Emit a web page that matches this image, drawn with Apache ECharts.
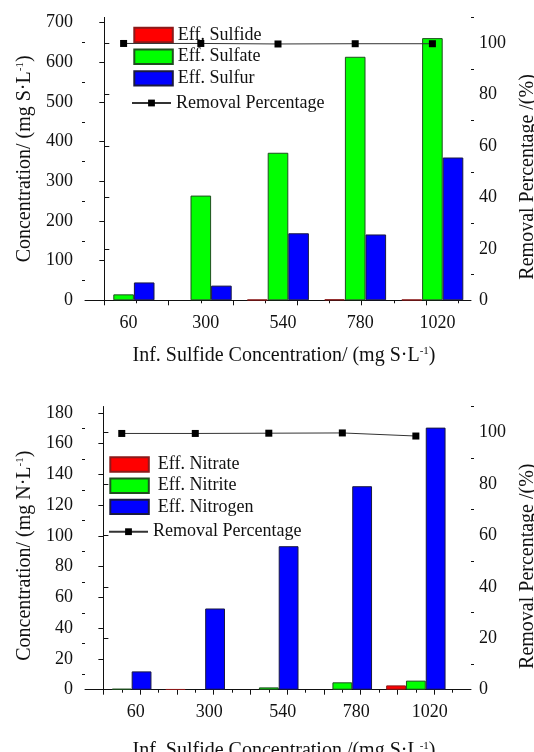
<!DOCTYPE html>
<html>
<head>
<meta charset="utf-8">
<script src="https://cdn.jsdelivr.net/npm/echarts@6/dist/echarts.min.js"></script>
<style>
  html, body { margin: 0; padding: 0; background: #fff; }
  .chart { width: 534px; height: 376px; }
</style>
</head>
<body>
<div id="sulfurChart" class="chart"></div>
<div id="nitrogenChart" class="chart"></div>
<script>
// influent sulfide levels (mg S/L)
const sulfideDose = [60, 300, 540, 780, 1020];

// top panel: sulfur species (mg S/L) and sulfide removal (%)
// null = no bar visible in the figure
const effSulfide = [null, null, 1.7, 2.5, 1.7];
const effSulfate = [15, 264, 372, 614, 661];
const effSulfur = [45, 37, 169, 166, 360];
const sulfideRemoval = [99.9, 99.9, 99.7, 99.8, 99.8];

// bottom panel: nitrogen species (mg N/L) and nitrate removal (%)
const effNitrate = [null, 0.3, null, null, 2.8];
const effNitrite = [0.6, null, 1.5, 4.8, 5.9];
const effNitrogen = [11.9, 52.8, 93.3, 132.3, 170.4];
const nitrateRemoval = [99.6, 99.6, 99.7, 99.8, 98.6];

// tick values
const sConcTicks = [0, 100, 200, 300, 400, 500, 600, 700];
const sConcMinor = [50, 150, 250, 350, 450, 550, 650];
const nConcTicks = [0, 20, 40, 60, 80, 100, 120, 140, 160, 180];
const nConcMinor = [10, 30, 50, 70, 90, 110, 130, 150, 170];
const removalTicks = [0, 20, 40, 60, 80, 100];
const removalMinor = [10, 30, 50, 70, 90, 110];
const sDoseMajor = [0, 200, 400, 600, 800, 1000];
const sDoseMinor = [100, 300, 500, 700, 900, 1100];
const nDoseMajor = [0, 120, 240, 360, 480, 600, 720, 840, 960, 1080];
const nDoseMinor = [60, 180, 300, 420, 540, 660, 780, 900, 1020, 1140];

const font = "'Liberation Serif', 'Times New Roman', serif";
const ink = '#111';
const nameRich = { sup: { fontSize: 11, lineHeight: 11, verticalAlign: 'top', fontFamily: font, color: ink } };

const pairs = (vals) => sulfideDose.map((x, i) => [x, vals[i]]);
const plain = (v) => String(v);

const tickOnlyAxis = (extra, values, len) => Object.assign({
  axisLine: { show: false },
  axisLabel: { show: false },
  splitLine: { show: false },
  axisTick: { show: true, customValues: values, length: len, lineStyle: { color: ink } }
}, extra);

function buildOption(c) {
  const barSeries = c.bars.map((b) => ({
    name: b.name,
    type: 'bar',
    data: pairs(b.data),
    barWidth: c.barWidth,
    barGap: '0%',
    itemStyle: { color: b.color, borderColor: b.border, borderWidth: 1 }
  }));
  return {
    animation: false,
    textStyle: { fontFamily: font },
    grid: { left: 85, right: 63, top: c.gridTop, bottom: c.gridBottom, containLabel: false, outerBoundsMode: 'none' },
    legend: [
      {
        data: c.bars.map((b) => b.name),
        orient: 'vertical',
        left: c.barLegend[0],
        top: c.barLegend[1],
        padding: 0,
        icon: 'rect',
        itemWidth: 38.5,
        itemHeight: 14.4,
        itemGap: c.legendGap,
        selectedMode: false,
        textStyle: { fontFamily: font, fontSize: 18, color: ink, lineHeight: 18, padding: c.legendTextPad }
      },
      {
        data: [c.lineName],
        left: c.lineLegend[0],
        top: c.lineLegend[1],
        padding: 0,
        itemWidth: 39,
        itemHeight: 8.5,
        selectedMode: false,
        textStyle: { fontFamily: font, fontSize: 18, color: ink, lineHeight: 18 }
      }
    ],
    xAxis: [
      {
        type: 'value',
        min: c.xMin,
        max: c.xMax,
        name: c.xName,
        nameLocation: 'middle',
        nameGap: c.xNameGap,
        nameTextStyle: { fontFamily: font, fontSize: 20, color: ink, lineHeight: 20, padding: [0, 0, 0, 12], rich: nameRich },
        axisLine: { show: true, lineStyle: { color: ink } },
        axisTick: { show: true, customValues: c.xMajor, length: 5, lineStyle: { color: ink } },
        axisLabel: { customValues: sulfideDose, formatter: plain, margin: 14, fontSize: 18, color: ink, fontFamily: font, padding: c.xLabelPad },
        splitLine: { show: false }
      },
      tickOnlyAxis({ type: 'value', min: c.xMin, max: c.xMax, position: 'bottom' }, c.xMinor, 3)
    ],
    yAxis: [
      {
        type: 'value',
        position: 'left',
        min: 0,
        max: c.concMax,
        name: c.yName,
        nameLocation: 'middle',
        nameGap: 50,
        nameTextStyle: { fontFamily: font, fontSize: 20, color: ink, lineHeight: 20, padding: c.yNamePad, rich: nameRich },
        axisLine: { show: true, lineStyle: { color: ink } },
        axisTick: { show: true, customValues: c.concTicks, length: 5, lineStyle: { color: ink } },
        axisLabel: { customValues: c.concTicks, formatter: plain, margin: 12, fontSize: 18, color: ink, fontFamily: font },
        splitLine: { show: false }
      },
      {
        type: 'value',
        position: 'right',
        min: 0,
        max: 110,
        name: 'Removal Percentage /(%)',
        nameLocation: 'middle',
        nameGap: 47,
        nameTextStyle: { fontFamily: font, fontSize: 20, color: ink, lineHeight: 20, padding: [0, 36, 0, 0] },
        axisLine: { show: true, lineStyle: { color: ink } },
        axisTick: { show: true, customValues: removalTicks, length: 5, lineStyle: { color: ink } },
        axisLabel: { customValues: removalTicks, formatter: plain, margin: 8, fontSize: 18, color: ink, fontFamily: font },
        splitLine: { show: false }
      },
      tickOnlyAxis({ type: 'value', position: 'left', min: 0, max: c.concMax }, c.concMinor, 3),
      tickOnlyAxis({ type: 'value', position: 'right', min: 0, max: 110 }, removalMinor, 3)
    ],
    series: barSeries.concat([
      {
        name: c.lineName,
        type: 'line',
        yAxisIndex: 1,
        data: pairs(c.removal),
        symbol: 'rect',
        symbolSize: 7,
        z: 5,
        itemStyle: { color: '#000' },
        lineStyle: { color: '#333', width: 1 }
      }
    ])
  };
}

const sulfurChart = echarts.init(document.getElementById('sulfurChart'));
sulfurChart.setOption(buildOption({
  gridTop: 17.5,
  gridBottom: 75.7,
  xMin: -60,
  xMax: 1140,
  xMajor: sDoseMajor,
  xMinor: sDoseMinor,
  xName: 'Inf. Sulfide Concentration/ (mg S·L{sup|-1})',
  xNameGap: 45,
  xLabelPad: [0, 0, 0, 10],
  yName: 'Concentration/ (mg S·L{sup|-1})',
  yNamePad: [0, 0, 0, 0],
  concMax: 713,
  concTicks: sConcTicks,
  concMinor: sConcMinor,
  barWidth: 20.6,
  bars: [
    { name: 'Eff. Sulfide', data: effSulfide, color: '#ff0000', border: '#8b1a1a' },
    { name: 'Eff. Sulfate', data: effSulfate, color: '#00ff00', border: '#1f4f1f' },
    { name: 'Eff. Sulfur', data: effSulfur, color: '#0000ff', border: '#1a1a40' }
  ],
  lineName: 'Removal Percentage',
  removal: sulfideRemoval,
  barLegend: [133.3, 26],
  legendGap: 3.7,
  legendTextPad: [0, 0, 0, 0],
  lineLegend: [131, 94]
}));

const nitrogenChart = echarts.init(document.getElementById('nitrogenChart'));
nitrogenChart.setOption(buildOption({
  gridTop: 30.7,
  gridBottom: 62.3,
  xMin: -60,
  xMax: 1200,
  xMajor: nDoseMajor,
  xMinor: nDoseMinor,
  xName: 'Inf. Sulfide Concentration /(mg S·L{sup|-1})',
  xNameGap: 51,
  xLabelPad: [0, 0, 0, 28],
  yName: 'Concentration/ (mg N·L{sup|-1})',
  yNamePad: [0, 15, 0, 0],
  concMax: 184,
  concTicks: nConcTicks,
  concMinor: nConcMinor,
  barWidth: 19.8,
  bars: [
    { name: 'Eff. Nitrate', data: effNitrate, color: '#ff0000', border: '#8b1a1a' },
    { name: 'Eff. Nitrite', data: effNitrite, color: '#00ff00', border: '#1f4f1f' },
    { name: 'Eff. Nitrogen', data: effNitrogen, color: '#0000ff', border: '#1a1a40' }
  ],
  lineName: 'Removal Percentage',
  removal: nitrateRemoval,
  barLegend: [109.3, 79.5],
  legendGap: 3.2,
  legendTextPad: [0, 0, 0, 4],
  lineLegend: [108, 146.7]
}));
</script>
</body>
</html>
